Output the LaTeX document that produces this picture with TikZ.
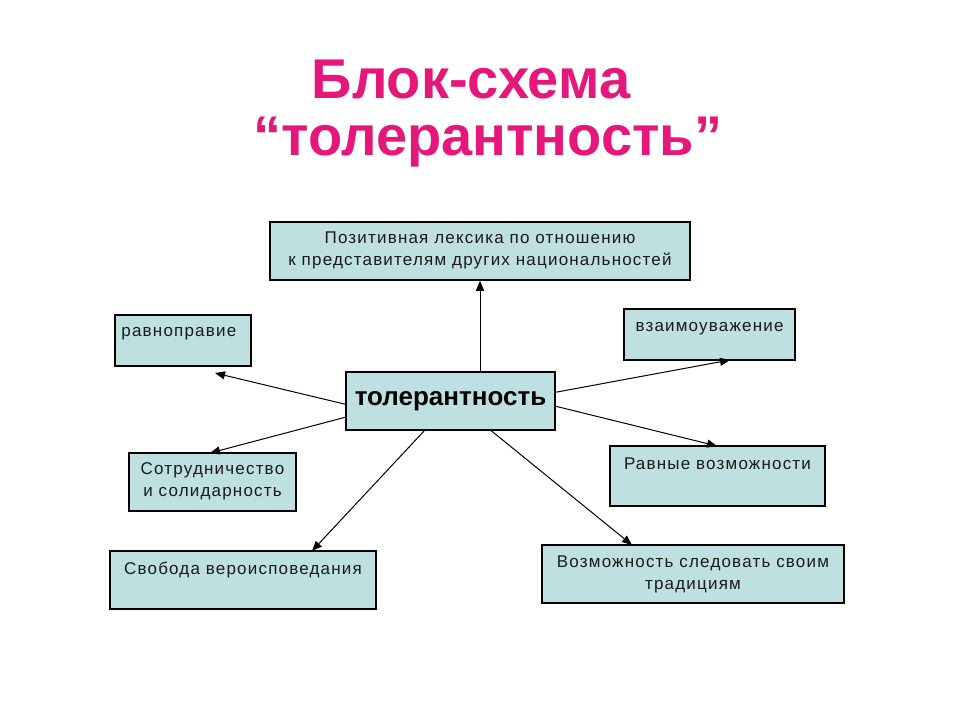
\documentclass[tikz,border=0pt]{standalone}
\usepackage{fontspec}
\setmainfont{Liberation Sans}
\newfontfamily\boxfont[LetterSpace=7]{Liberation Sans}
\usetikzlibrary{arrows.meta,calc}
\definecolor{boxfill}{HTML}{BFE0E0}
\definecolor{titlecol}{HTML}{E5177B}
\definecolor{txt}{HTML}{1A1A1A}
\tikzset{
  box/.style={draw=black,line width=1.5pt,fill=boxfill,rectangle,inner sep=0pt},
  lbl/.style={font=\boxfont\fontsize{17}{22.5}\selectfont,text=txt,inner sep=0pt,align=center},
  conn/.style={line width=1pt,-{Triangle[length=10pt,width=8pt]}},
  ttl/.style={font=\bfseries\fontsize{56}{60}\selectfont,text=titlecol}
}
\begin{document}
\begin{tikzpicture}[x=1pt,y=-1pt]
\useasboundingbox[fill=white] (0,0) rectangle (960,720);
\node[ttl] (t1) at (471,80) {Блок-схема};
\node[ttl] (t2) at (488,142) {“толерантность”};
% boxes
\node[box,minimum width=420pt,minimum height=58pt] (top) at (480,251) {};
\node[lbl,anchor=north] at ($(top.north)+(0,10)$) {Позитивная лексика по отношению\\к представителям других национальностей};
\node[box,minimum width=136pt,minimum height=51pt] (ravn) at (183,340.5) {};
\node[lbl,anchor=north west] at ($(ravn.north west)+(7,13)$) {равноправие};
\node[box,minimum width=171pt,minimum height=51pt] (vzaim) at (709.5,334.5) {};
\node[lbl,anchor=north] at ($(vzaim.north)+(0,14)$) {взаимоуважение};
\node[box,minimum width=209pt,minimum height=58pt,font=\bfseries\fontsize{26}{28}\selectfont] (c) at (450.5,401) {толерантность};
\node[box,minimum width=167pt,minimum height=58pt] (sotr) at (212.5,482) {};
\node[lbl,anchor=north] at ($(sotr.north)+(0,10)$) {Сотрудничество\\и солидарность};
\node[box,minimum width=215pt,minimum height=60pt] (rv) at (717.5,476) {};
\node[lbl,anchor=north] at ($(rv.north)+(0,12)$) {Равные возможности};
\node[box,minimum width=266pt,minimum height=58pt] (svob) at (243,580) {};
\node[lbl,anchor=north] at ($(svob.north)+(0,12)$) {Свобода вероисповедания};
\node[box,minimum width=302pt,minimum height=58pt] (vozm) at (693,574) {};
\node[lbl,anchor=north] at ($(vozm.north)+(0,11)$) {Возможность следовать своим\\традициям};
% connector endpoints
\coordinate (cW1) at ($(c.north west)+(0,33)$);
\coordinate (cW2) at ($(c.north west)+(0,46)$);
\coordinate (cE1) at ($(c.north east)+(0,21)$);
\coordinate (cE2) at ($(c.north east)+(0,35)$);
\coordinate (cS1) at ($(c.south west)+(79,0)$);
\coordinate (cS2) at ($(c.south west)+(146,0)$);
\coordinate (eRavn) at (215,373);
\coordinate (eVzaim) at (730,360);
\coordinate (eSotr) at (210,453);
\coordinate (eRv) at (717,446);
\coordinate (eSvob) at (312,551);
\coordinate (eVozm) at (632,545);
\draw[conn] (c.north -| top.south) -- (top.south);
\draw[conn] (cW1) -- (eRavn);
\draw[conn] (cE1) -- (eVzaim);
\draw[conn] (cW2) -- (eSotr);
\draw[conn] (cE2) -- (eRv);
\draw[conn] (cS1) -- (eSvob);
\draw[conn] (cS2) -- (eVozm);
\end{tikzpicture}
\end{document}
